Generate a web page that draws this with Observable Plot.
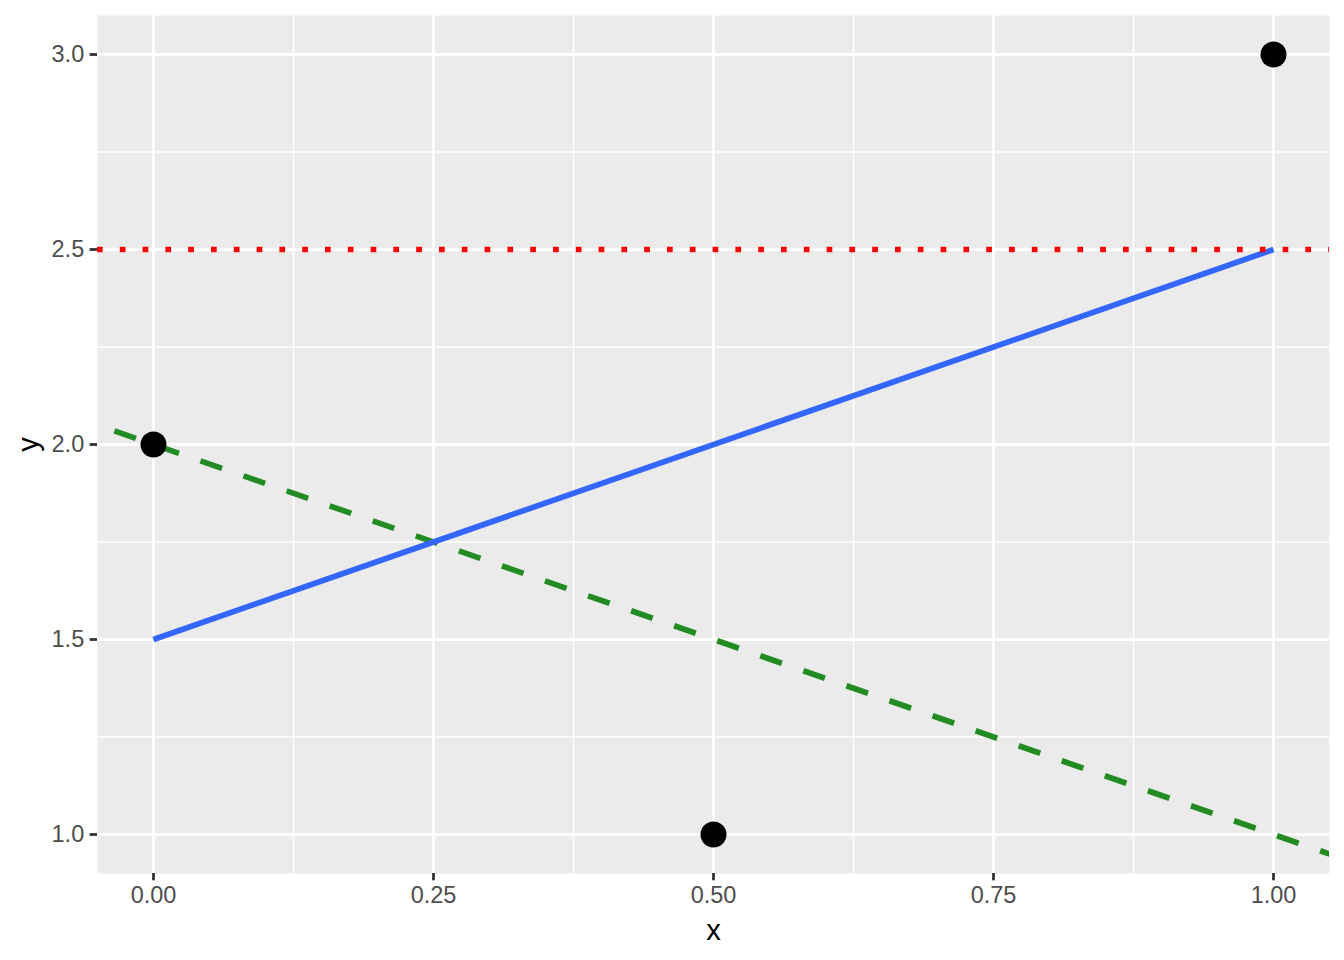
<!DOCTYPE html>
<html>
<head>
<meta charset="utf-8">
<script src="https://cdn.jsdelivr.net/npm/d3@7"></script>
<script src="https://cdn.jsdelivr.net/npm/@observablehq/plot@0.6"></script>
<style>
  html, body { margin: 0; padding: 0; background: #ffffff; }
  #chart svg { display: block; }
</style>
</head>
<body>
<div id="chart"></div>
<script>
// ---- data ----
const pointX = [0, 0.5, 1];
const pointY = [2, 1, 3];
const ablineIntercept = 2;
const ablineSlope = -1;
const hlineY = [2.5];
const xDomain = [-0.05, 1.05];
const yDomain = [0.9, 3.1];
const xTicks = [0, 0.25, 0.5, 0.75, 1];
const xMinor = [0.125, 0.375, 0.625, 0.875];
const yTicks = [1, 1.5, 2, 2.5, 3];
const yMinor = [1.25, 1.75, 2.25, 2.75];

const points = pointX.map((x, i) => ({x, y: pointY[i]}));
// ggplot extends abline range by the panel width on each side before clipping
const span = xDomain[1] - xDomain[0];
const ablineData = [xDomain[0] - span, xDomain[1] + span].map(x => ({x, y: ablineIntercept + ablineSlope * x}));

const lw = 5.7;

const chart = Plot.plot({
  width: 1344,
  height: 960,
  marginLeft: 97,
  marginRight: 15,
  marginTop: 15,
  marginBottom: 87,
  style: {fontFamily: "'Liberation Sans', Arial, sans-serif", background: "#ffffff"},
  x: {domain: xDomain, axis: null},
  y: {domain: yDomain, axis: null},
  marks: [
    Plot.frame({fill: "#EBEBEB", stroke: null}),
    Plot.ruleX(xMinor, {stroke: "#ffffff", strokeWidth: 1.4}),
    Plot.ruleY(yMinor, {stroke: "#ffffff", strokeWidth: 1.4}),
    Plot.ruleX(xTicks, {stroke: "#ffffff", strokeWidth: 2.8}),
    Plot.ruleY(yTicks, {stroke: "#ffffff", strokeWidth: 2.8}),
    Plot.line(ablineData, {x: "x", y: "y", stroke: "#228B22", strokeWidth: lw, strokeDasharray: `${lw*4},${lw*4}`, strokeLinecap: "butt", clip: true}),
    Plot.linearRegressionY(points, {x: "x", y: "y", ci: 0, stroke: "#3366FF", strokeWidth: lw, strokeLinecap: "butt"}),
    Plot.ruleY(hlineY, {stroke: "#FF0000", strokeWidth: lw, strokeDasharray: `${lw},${lw*3}`, strokeLinecap: "butt"}),
    Plot.dot(points, {x: "x", y: "y", r: 13, fill: "#000000", stroke: null}),
    Plot.axisX(xTicks, {tickFormat: d3.format(".2f"), tickSize: 7.3, tickPadding: 6, stroke: "#333333", strokeWidth: 2.8, fill: "#4D4D4D", fontSize: 23.5, label: null}),
    Plot.axisY(yTicks, {tickFormat: d3.format(".1f"), tickSize: 7.3, tickPadding: 6, stroke: "#333333", strokeWidth: 2.8, fill: "#4D4D4D", fontSize: 23.5, label: null}),
    Plot.text(["x"], {frameAnchor: "bottom", dy: 57.6, lineAnchor: "middle", textAnchor: "middle", fontSize: 29.3, fill: "#000000"}),
    Plot.text(["y"], {frameAnchor: "left", dx: -69, rotate: -90, lineAnchor: "middle", textAnchor: "middle", fontSize: 29.3, fill: "#000000"})
  ]
});
document.getElementById("chart").appendChild(chart);
</script>
</body>
</html>
